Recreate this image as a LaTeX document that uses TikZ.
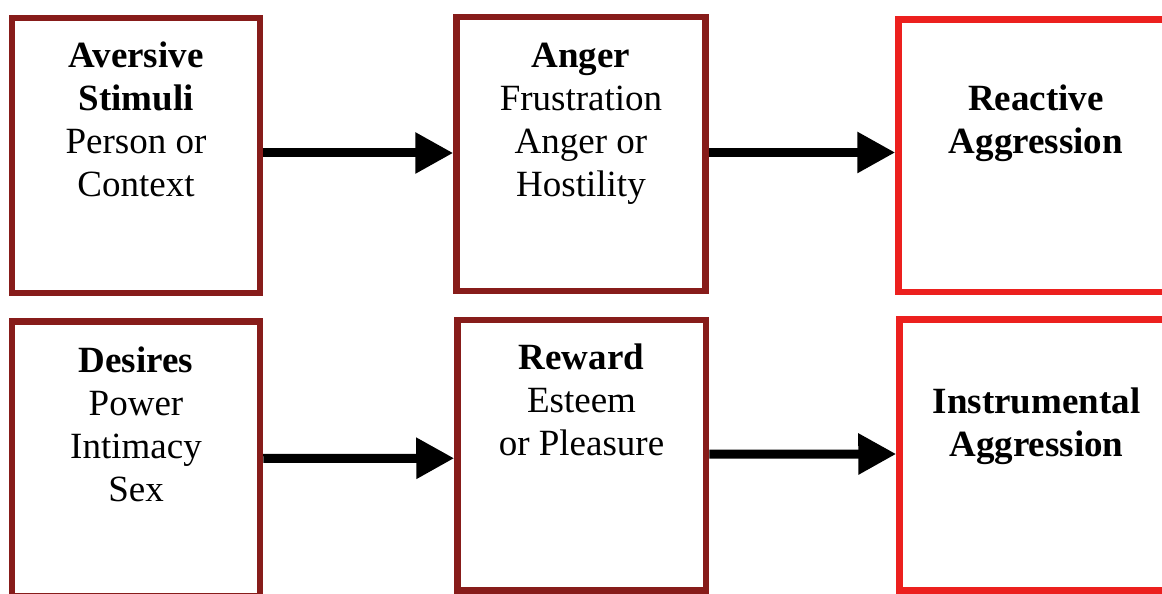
\documentclass[tikz,border=0pt]{standalone}
\usepackage{fontspec}
\setmainfont{Liberation Serif}
\usetikzlibrary{arrows.meta}
\definecolor{darkbox}{RGB}{135,28,26}
\definecolor{redbox}{RGB}{236,32,30}
\tikzset{
  boxdark/.style={draw=darkbox, line width=6.5pt, inner sep=0pt, fill=none},
  boxred/.style={draw=redbox, line width=6.5pt, inner sep=0pt, fill=none},
  boxtext/.style={align=center, anchor=base, inner sep=0pt, font=\fontsize{37}{43}\selectfont},
  arr/.style={line width=9pt, -{Triangle[length=38pt,width=39pt]}}
}
\begin{document}
\begin{tikzpicture}[x=1pt,y=1pt]
\useasboundingbox (0,0) rectangle (1162,594);
\clip (0,0) rectangle (1162,594);
\fill[white] (0,0) rectangle (1162,594);
% boxes
\node[boxdark, minimum width=248pt, minimum height=275pt] (b1) at (136,438.5) {};
\node[boxdark, minimum width=249pt, minimum height=274pt] (b2) at (581,440) {};
\node[boxred, minimum width=275pt, minimum height=272.5pt] (b3) at (1036,438.25) {};
\node[boxdark, minimum width=248pt, minimum height=275pt] (b4) at (136,135) {};
\node[boxdark, minimum width=248.5pt, minimum height=270.5pt] (b5) at (581.75,138.75) {};
\node[boxred, minimum width=274pt, minimum height=271pt] (b6) at (1036.5,139) {};
% texts (base anchor = baseline of the last line)
\node[boxtext] (t1) at (136,397) {\textbf{Aversive}\\\textbf{Stimuli}\\Person or\\Context};
\node[boxtext] (t2) at (581,397) {\textbf{Anger}\\Frustration\\Anger or\\Hostility};
\node[boxtext] (t3) at (1036,440) {\textbf{Reactive}\\\textbf{Aggression}};
\node[boxtext] (t4) at (136,92) {\textbf{Desires}\\Power\\Intimacy\\Sex};
\node[boxtext] (t5) at (581.5,138) {\textbf{Reward}\\Esteem\\or Pleasure};
\node[boxtext] (t6) at (1036.5,137) {\textbf{Instrumental}\\\textbf{Aggression}};
% arrows
\draw[arr] ([yshift=2.5pt]b1.east) -- ([yshift=1pt]b2.west);
\draw[arr] ([yshift=1.5pt]b2.east) -- ([yshift=3.25pt]b3.west);
\draw[arr] ([yshift=0.5pt]b4.east) -- ([yshift=-3pt]b5.west);
\draw[arr] ([yshift=1pt]b5.east) -- ([yshift=1pt]b6.west);
\end{tikzpicture}
\end{document}
